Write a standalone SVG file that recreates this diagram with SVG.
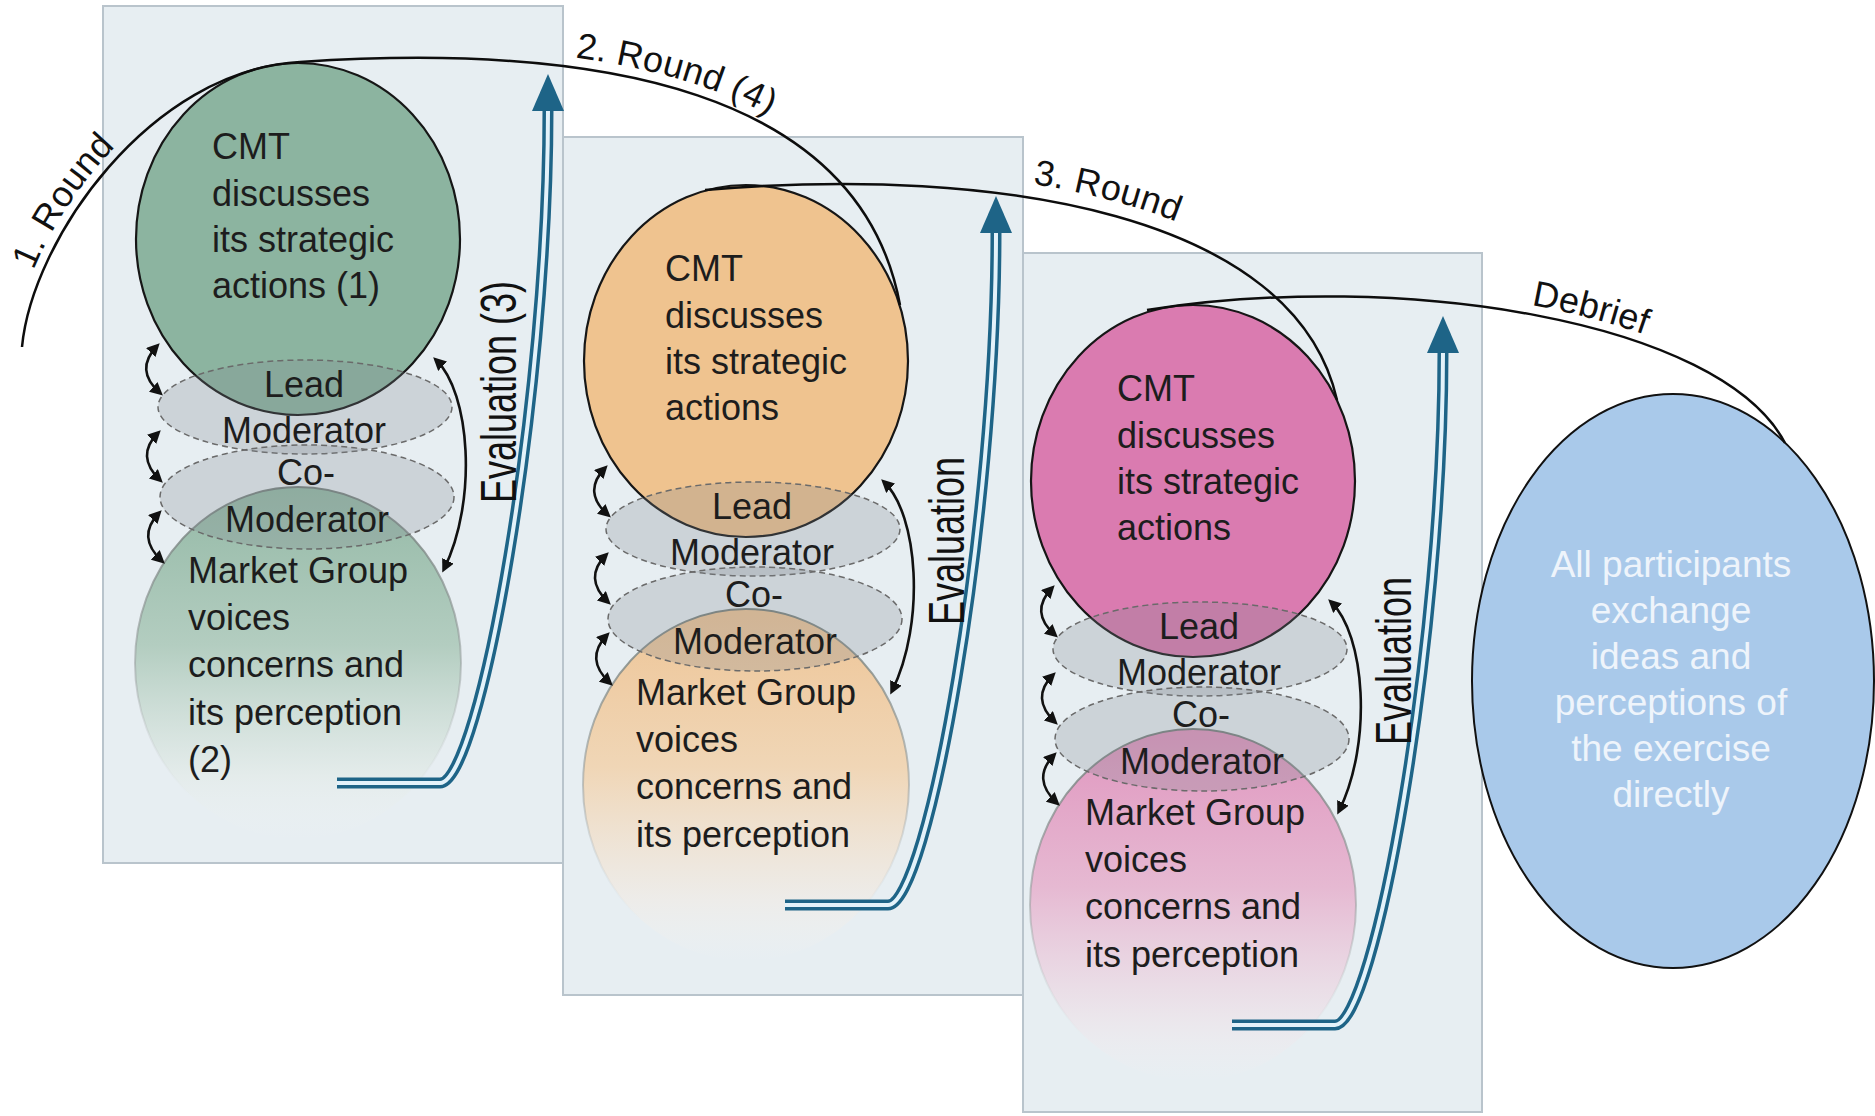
<svg xmlns="http://www.w3.org/2000/svg" width="1875" height="1116" viewBox="0 0 1875 1116">
  <defs>
    <style>
      .panel{fill:#e7eef2;stroke:#b9c4cc;stroke-width:2}
      .cmt{stroke:#161616;stroke-width:2.2}
      .mod{fill:#7e8990;fill-opacity:.26;stroke:#6a6a6a;stroke-width:1.5;stroke-dasharray:6 4}
      .mg{stroke:url(#mgStroke);stroke-width:2}
      .txt{font-family:"Liberation Sans",Arial,sans-serif;font-size:36px;fill:#1d1d1d}
      .mid{text-anchor:middle}
      .lbl{font-family:"Liberation Sans",Arial,sans-serif;font-size:36px;fill:#111}
      .arc{fill:none;stroke:#0d0d0d;stroke-width:2.5}
      .link{fill:none;stroke:#111;stroke-width:2.6;marker-start:url(#tip);marker-end:url(#tip)}
      .evo{fill:none;stroke:#1e6487;stroke-width:11}
      .evi{fill:none;stroke:#e3f2fa;stroke-width:4}
      .evh{fill:#1e6487}
      .debrief{font-family:"Liberation Sans",Arial,sans-serif;font-size:37px;fill:#eef4fb;text-anchor:middle}
    </style>
    <marker id="tip" viewBox="0 0 10 10" refX="7" refY="5" markerWidth="13" markerHeight="13" markerUnits="userSpaceOnUse" orient="auto-start-reverse">
      <path d="M0,0 L10,5 L0,10 z" fill="#111"/>
    </marker>
    <linearGradient id="mgStroke" x1="0" y1="0" x2="0" y2="1">
      <stop offset="0" stop-color="#6f7a76" stop-opacity=".9"/>
      <stop offset=".55" stop-color="#9aa0a0" stop-opacity=".5"/>
      <stop offset=".88" stop-color="#cfd3d3" stop-opacity="0"/>
    </linearGradient>
    <linearGradient id="mgGreen" x1="0" y1="0" x2="0" y2="1">
      <stop offset="0" stop-color="#94b9a6"/>
      <stop offset=".45" stop-color="#b3cdc0"/>
      <stop offset=".82" stop-color="#e3ebe9" stop-opacity=".8"/>
      <stop offset="1" stop-color="#eef2f2" stop-opacity="0"/>
    </linearGradient>
    <linearGradient id="mgOrange" x1="0" y1="0" x2="0" y2="1">
      <stop offset="0" stop-color="#eec597"/>
      <stop offset=".45" stop-color="#f0d6b6"/>
      <stop offset=".82" stop-color="#efebe6" stop-opacity=".8"/>
      <stop offset="1" stop-color="#f2f2f0" stop-opacity="0"/>
    </linearGradient>
    <linearGradient id="mgPink" x1="0" y1="0" x2="0" y2="1">
      <stop offset="0" stop-color="#e096bf"/>
      <stop offset=".45" stop-color="#e6b9d2"/>
      <stop offset=".82" stop-color="#ece4ea" stop-opacity=".8"/>
      <stop offset="1" stop-color="#f2eff1" stop-opacity="0"/>
    </linearGradient>
  </defs>

  <!-- Round 1 -->
  <g id="round1">
    <rect class="panel" x="103" y="6" width="460" height="857"/>
    <g id="round1-cmt">
      <ellipse class="cmt" cx="298" cy="239" rx="162" ry="176" fill="#8cb4a0"/>
      <text class="txt"><tspan x="212" y="159">CMT</tspan><tspan x="212" y="206">discusses</tspan><tspan x="212" y="252">its strategic</tspan><tspan x="212" y="298">actions (1)</tspan></text>
    </g>
    <g id="round1-market">
      <ellipse class="mg" cx="298" cy="663" rx="163" ry="176" fill="url(#mgGreen)"/>
      <text class="txt"><tspan x="188" y="583">Market Group</tspan><tspan x="188" y="630">voices</tspan><tspan x="188" y="677">concerns and</tspan><tspan x="188" y="725">its perception</tspan><tspan x="188" y="772">(2)</tspan></text>
    </g>
    <g id="round1-lead">
      <ellipse class="mod" cx="305" cy="407" rx="147" ry="47"/>
      <text class="txt mid"><tspan x="304" y="397">Lead</tspan><tspan x="304" y="443">Moderator</tspan></text>
    </g>
    <g id="round1-co">
      <ellipse class="mod" cx="307" cy="497" rx="147" ry="52"/>
      <text class="txt mid"><tspan x="306" y="485">Co-</tspan><tspan x="307" y="532">Moderator</tspan></text>
    </g>
  </g>

  <!-- Round 2 -->
  <g id="round2">
    <rect class="panel" x="563" y="137" width="460" height="858"/>
    <g transform="translate(448,122)">
      <g id="round2-cmt">
        <ellipse class="cmt" cx="298" cy="239" rx="162" ry="176" fill="#efc38f"/>
        <text class="txt"><tspan x="217" y="159">CMT</tspan><tspan x="217" y="206">discusses</tspan><tspan x="217" y="252">its strategic</tspan><tspan x="217" y="298">actions</tspan></text>
      </g>
      <g id="round2-market">
        <ellipse class="mg" cx="298" cy="663" rx="163" ry="176" fill="url(#mgOrange)"/>
        <text class="txt"><tspan x="188" y="583">Market Group</tspan><tspan x="188" y="630">voices</tspan><tspan x="188" y="677">concerns and</tspan><tspan x="188" y="725">its perception</tspan></text>
      </g>
      <g id="round2-lead">
        <ellipse class="mod" cx="305" cy="407" rx="147" ry="47"/>
        <text class="txt mid"><tspan x="304" y="397">Lead</tspan><tspan x="304" y="443">Moderator</tspan></text>
      </g>
      <g id="round2-co">
        <ellipse class="mod" cx="307" cy="497" rx="147" ry="52"/>
        <text class="txt mid"><tspan x="306" y="485">Co-</tspan><tspan x="307" y="532">Moderator</tspan></text>
      </g>
    </g>
  </g>

  <!-- Round 3 -->
  <g id="round3">
    <rect class="panel" x="1023" y="253" width="459" height="859"/>
    <g transform="translate(895,242)">
      <g id="round3-cmt">
        <ellipse class="cmt" cx="298" cy="239" rx="162" ry="176" fill="#da7bb0"/>
        <text class="txt"><tspan x="222" y="159">CMT</tspan><tspan x="222" y="206">discusses</tspan><tspan x="222" y="252">its strategic</tspan><tspan x="222" y="298">actions</tspan></text>
      </g>
      <g id="round3-market">
        <ellipse class="mg" cx="298" cy="663" rx="163" ry="176" fill="url(#mgPink)"/>
        <text class="txt"><tspan x="190" y="583">Market Group</tspan><tspan x="190" y="630">voices</tspan><tspan x="190" y="677">concerns and</tspan><tspan x="190" y="725">its perception</tspan></text>
      </g>
      <g id="round3-lead">
        <ellipse class="mod" cx="305" cy="407" rx="147" ry="47"/>
        <text class="txt mid"><tspan x="304" y="397">Lead</tspan><tspan x="304" y="443">Moderator</tspan></text>
      </g>
      <g id="round3-co">
        <ellipse class="mod" cx="307" cy="497" rx="147" ry="52"/>
        <text class="txt mid"><tspan x="306" y="485">Co-</tspan><tspan x="307" y="532">Moderator</tspan></text>
      </g>
    </g>
  </g>

  <!-- Debrief -->
  <g id="debrief">
    <ellipse cx="1673" cy="681" rx="201" ry="287" fill="#a9c9ea" stroke="#111" stroke-width="2"/>
    <text class="debrief"><tspan x="1671" y="577">All participants</tspan><tspan x="1671" y="623">exchange</tspan><tspan x="1671" y="669">ideas and</tspan><tspan x="1671" y="715">perceptions of</tspan><tspan x="1671" y="761">the exercise</tspan><tspan x="1671" y="807">directly</tspan></text>
  </g>

  <!-- Connectors -->
  <g id="connectors">
    <!-- per-round links: role exchanges, evaluation feedback, evaluation flow -->
    <g id="links-round1">
      <path class="link" d="M157 346 Q134 370 160 393"/>
      <path class="link" d="M158 433 Q135 456 160 480"/>
      <path class="link" d="M159 513 Q136 537 162 561"/>
      <path class="link" d="M436 360 C470 392 478 500 444 569"/>
      <path class="evo" d="M337 783 H440 C480 783 548 400 548 110"/>
      <path class="evi" d="M337 783 H440 C480 783 548 400 548 110"/>
      <polygon class="evh" points="548,74 532,111 564,111"/>
      <text class="lbl" transform="translate(516,503) rotate(-90) scale(1,1.4)">Evaluation (3)</text>
    </g>
    <g id="links-round2" transform="translate(448,122)">
      <path class="link" d="M157 346 Q134 370 160 393"/>
      <path class="link" d="M158 433 Q135 456 160 480"/>
      <path class="link" d="M159 513 Q136 537 162 561"/>
      <path class="link" d="M436 360 C470 392 478 500 444 569"/>
      <path class="evo" d="M337 783 H440 C480 783 548 400 548 110"/>
      <path class="evi" d="M337 783 H440 C480 783 548 400 548 110"/>
      <polygon class="evh" points="548,74 532,111 564,111"/>
      <text class="lbl" transform="translate(516,503) rotate(-90) scale(1,1.4)">Evaluation</text>
    </g>
    <g id="links-round3" transform="translate(895,242)">
      <path class="link" d="M157 346 Q134 370 160 393"/>
      <path class="link" d="M158 433 Q135 456 160 480"/>
      <path class="link" d="M159 513 Q136 537 162 561"/>
      <path class="link" d="M436 360 C470 392 478 500 444 569"/>
      <path class="evo" d="M337 783 H440 C480 783 548 400 548 110"/>
      <path class="evi" d="M337 783 H440 C480 783 548 400 548 110"/>
      <polygon class="evh" points="548,74 532,111 564,111"/>
      <text class="lbl" transform="translate(516,503) rotate(-90) scale(1,1.4)">Evaluation</text>
    </g>

    <!-- flow between rounds -->
    <path id="arc-r1" class="arc" d="M22 347 C32 240 150 70 300 62"/>
    <path id="arc-r2" class="arc" d="M300 62 C600 42 860 90 900 305"/>
    <path id="arc-r3" class="arc" d="M705 190 C1000 165 1295 215 1337 400"/>
    <path id="arc-debrief" class="arc" d="M1147 310 C1400 270 1720 320 1785 443"/>
    <text class="lbl" dy="-9"><textPath href="#arc-r1" startOffset="76">1. Round</textPath></text>
    <text class="lbl" dy="-10"><textPath href="#arc-r2" startOffset="274">2. Round (4)</textPath></text>
    <text class="lbl" dy="-14"><textPath href="#arc-r3" startOffset="326">3. Round</textPath></text>
    <text class="lbl" dy="-9"><textPath href="#arc-debrief" startOffset="384">Debrief</textPath></text>
  </g>
</svg>
